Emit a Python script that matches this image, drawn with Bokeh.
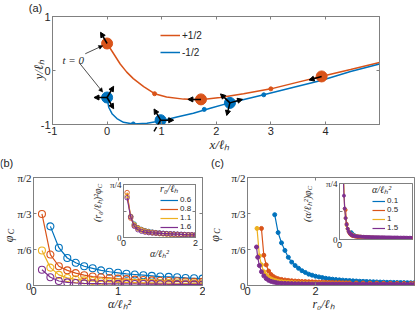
import math
from bokeh.plotting import figure
from bokeh.models import (Range1d, LinearAxis, FixedTicker, Label, Legend,
                          LegendItem, Arrow, NormalHead, ColumnDataSource)
from bokeh.embed import file_html
from bokeh.resources import INLINE

PI = math.pi
BLUE, ORANGE, YELLOW, PURPLE = "#0072BD", "#D95319", "#EDB120", "#7E2F8E"
AX = "#808080"
TXT = "#262626"
SANS = "Liberation Sans"
SERIF = "Liberation Serif"

# ---------------- panel (a): defect trajectories ----------------
plus_x = [0.0, 0.12, 0.24, 0.36, 0.48, 0.67, 0.87, 1.09, 1.40, 1.71, 2.07, 2.50, 3.00, 3.48, 3.92, 4.46, 4.99]
plus_y = [0.50, 0.31, 0.12, -0.03, -0.15, -0.30, -0.43, -0.49, -0.53, -0.54, -0.50, -0.43, -0.34, -0.22, -0.11, 0.02, 0.15]
minus_x = [0.0, 0.03, 0.09, 0.18, 0.30, 0.48, 0.73, 1.00, 1.28, 1.58, 1.89, 2.24, 2.87, 3.42, 3.92, 4.46, 4.99]
minus_y = [-0.505, -0.68, -0.80, -0.89, -0.96, -0.99, -0.975, -0.93, -0.86, -0.79, -0.70, -0.60, -0.45, -0.31, -0.185, -0.02, 0.12]
plus_tick_x = [0.87, 3.00]
plus_tick_y = [-0.43, -0.34]
minus_tick_x = [0.48, 1.78, 2.87]
minus_tick_y = [-0.99, -0.72, -0.45]
plus_def_x = [0.0, 1.72, 3.93]
plus_def_y = [0.50, -0.535, -0.11]
plus_angle = [120, 180, 196]
minus_def_x = [0.0, 0.98, 2.25]
minus_def_y = [-0.50, -0.92, -0.60]
minus_angle = [60, 0, 16]
legend_a = ["+1/2", "-1/2"]

# ---------------- panel (b): phi_C vs alpha ----------------
alpha_b = [0.1, 0.2, 0.3, 0.4, 0.5, 0.6, 0.7, 0.8, 0.9, 1.0,
           1.1, 1.2, 1.3, 1.4, 1.5, 1.6, 1.7, 1.8, 1.9, 2.0]
r0_b = [0.6, 0.8, 1.1, 1.6]
phi_b_06 = [0.86, 0.55, 0.40, 0.33, 0.28, 0.25, 0.22, 0.20, 0.185,
            0.17, 0.16, 0.15, 0.14, 0.13, 0.125, 0.12, 0.11, 0.105, 0.10]
phi_b_08 = [1.04, 0.45, 0.28, 0.22, 0.18, 0.15, 0.13, 0.12, 0.11, 0.10,
            0.092, 0.085, 0.079, 0.074, 0.069, 0.065, 0.061, 0.058, 0.055, 0.052]
phi_b_11 = [0.51, 0.26, 0.155, 0.11, 0.09, 0.075, 0.065, 0.058, 0.052, 0.047,
            0.044, 0.041, 0.039, 0.037, 0.035, 0.034, 0.033, 0.032, 0.031, 0.030]
phi_b_16 = [0.23, 0.12, 0.065, 0.045, 0.036, 0.031, 0.028, 0.026, 0.025, 0.024,
            0.023, 0.022, 0.021, 0.020, 0.019, 0.018, 0.017, 0.016, 0.016, 0.015]

# ---------------- panel (c): phi_C vs r0 ----------------
alpha_c = [0.1, 0.5, 1.0, 1.5]
r0_c_01 = [0.8, 0.9, 1.0, 1.1, 1.2, 1.3, 1.4, 1.5, 1.6, 1.7, 1.8, 1.9, 2.0, 2.1,
           2.2, 2.3, 2.4, 2.5, 2.6, 2.7, 2.8, 2.9, 3.0, 3.1, 3.2, 3.3, 3.4, 3.5,
           3.6, 3.7, 3.8, 3.9, 4.0, 4.1, 4.2, 4.3, 4.4, 4.5, 4.6, 4.7, 4.8, 4.9]
phi_c_01 = [1.03, 0.77, 0.62, 0.51, 0.41, 0.34, 0.29, 0.25, 0.215, 0.19, 0.165, 0.15, 0.135, 0.125,
            0.115, 0.105, 0.098, 0.092, 0.087, 0.082, 0.078, 0.074, 0.071, 0.068, 0.065, 0.062, 0.060, 0.058,
            0.056, 0.054, 0.052, 0.050, 0.049, 0.047, 0.046, 0.045, 0.044, 0.043, 0.042, 0.041, 0.040, 0.039]
r0_c_05 = [0.41, 0.48, 0.55, 0.62, 0.69, 0.76, 0.83, 0.90,
           1.0, 1.1, 1.2, 1.3, 1.4, 1.5, 1.6, 1.7, 1.8, 1.9, 2.0, 2.1, 2.2, 2.3, 2.4, 2.5, 2.6, 2.7, 2.8, 2.9, 3.0,
           3.2, 3.4, 3.6, 3.8, 4.0, 4.2, 4.4, 4.6, 4.8, 4.9]
phi_c_05 = [0.83, 0.44, 0.30, 0.21, 0.16, 0.13, 0.11, 0.098,
            0.088, 0.080, 0.074, 0.069, 0.065, 0.062, 0.059, 0.057, 0.055, 0.053, 0.051, 0.049, 0.048,
            0.046, 0.045, 0.044, 0.043, 0.042, 0.041, 0.040, 0.039,
            0.037, 0.036, 0.035, 0.034, 0.033, 0.032, 0.031, 0.030, 0.029, 0.029]
r0_c_10 = [0.28, 0.35, 0.41, 0.48, 0.55, 0.62, 0.69, 0.76, 0.83, 0.90,
           1.0, 1.1, 1.2, 1.3, 1.4, 1.5, 1.6, 1.7, 1.8, 1.9, 2.0, 2.1, 2.2, 2.3, 2.4, 2.5, 2.6, 2.7, 2.8, 2.9, 3.0,
           3.2, 3.4, 3.6, 3.8, 4.0, 4.2, 4.4, 4.6, 4.8, 4.9]
phi_c_10 = [0.83, 0.43, 0.30, 0.20, 0.15, 0.115, 0.095, 0.080, 0.070, 0.062,
            0.055, 0.050, 0.046, 0.043, 0.040, 0.038, 0.036, 0.034, 0.032, 0.031, 0.030,
            0.029, 0.028, 0.027, 0.026, 0.025, 0.025, 0.024, 0.024, 0.023, 0.023,
            0.022, 0.021, 0.021, 0.020, 0.020, 0.019, 0.019, 0.018, 0.018, 0.018]
r0_c_15 = [0.265, 0.30, 0.35, 0.41, 0.48, 0.55, 0.62, 0.69, 0.76, 0.83, 0.90,
           1.0, 1.1, 1.2, 1.3, 1.4, 1.5, 1.6, 1.7, 1.8, 1.9, 2.0, 2.1, 2.2, 2.3, 2.4, 2.5, 2.6, 2.7, 2.8, 2.9,
           3.0, 3.1, 3.2, 3.3, 3.4, 3.5, 3.6, 3.7, 3.8, 3.9, 4.0, 4.1, 4.2, 4.3, 4.4, 4.5, 4.6, 4.7, 4.8, 4.9]
phi_c_15 = [0.56, 0.41, 0.29, 0.20, 0.14, 0.10, 0.075, 0.060, 0.050, 0.043, 0.037,
            0.033, 0.031, 0.029, 0.028, 0.027, 0.026, 0.025, 0.024, 0.024, 0.023,
            0.023, 0.022, 0.022, 0.022, 0.021, 0.021, 0.021, 0.020, 0.020, 0.020,
            0.020, 0.019, 0.019, 0.019, 0.019, 0.018, 0.018, 0.018, 0.018, 0.018,
            0.017, 0.017, 0.017, 0.017, 0.017, 0.016, 0.016, 0.016, 0.016, 0.016]

y_ticks_main = [0, PI / 6, PI / 3, PI / 2]
y_labels_main = ["0", "π/6", "π/3", "π/2"]
y_ticks_inset = [0, PI / 8, PI / 4]
y_labels_inset = ["0", "", "π/4"]


def make_fig(xr, yr, fw, fh, left, top, bl, bt, br, bb, inset=False):
    p = figure(x_range=Range1d(*xr), y_range=Range1d(*yr),
               frame_width=fw, frame_height=fh,
               min_border_left=bl, min_border_top=bt,
               min_border_right=br, min_border_bottom=bb,
               output_backend="svg", toolbar_location=None,
               styles={"position": "absolute", "left": f"{left}px", "top": f"{top}px"})
    p.border_fill_color = None
    p.background_fill_color = "white" if inset else None
    p.outline_line_color = AX
    p.outline_line_width = 1
    p.xgrid.visible = False
    p.ygrid.visible = False
    return p


def style_axis(ax, ticks, labels, font, size, hidden=False, standoff=2):
    ax.ticker = FixedTicker(ticks=ticks)
    ax.major_tick_in = 3
    ax.major_tick_out = 0
    ax.minor_tick_line_color = None
    ax.axis_line_color = AX
    ax.major_tick_line_color = AX
    ax.major_label_text_font = font
    if hidden:
        ax.major_label_overrides = {t: "" for t in ticks}
        ax.major_label_text_color = None
        ax.major_label_text_font_size = "0px"
        ax.major_label_standoff = 0
    else:
        ax.major_label_overrides = {t: l for t, l in zip(ticks, labels)}
        ax.major_label_text_color = TXT
        ax.major_label_text_font_size = f"{size}px"
        ax.major_label_standoff = standoff


def setup_axes(p, xt, xl, yt, yl, xfont, yfont, size, right=True, top=True, xstand=2):
    style_axis(p.xaxis[0], xt, xl, xfont, size, standoff=xstand)
    style_axis(p.yaxis[0], yt, yl, yfont, size)
    if top:
        a = LinearAxis()
        style_axis(a, xt, xl, xfont, size, hidden=True)
        p.add_layout(a, "above")
    if right:
        a = LinearAxis()
        style_axis(a, yt, yl, yfont, size, hidden=True)
        p.add_layout(a, "right")


def label(p, x, y, text, size, font=SANS, style="normal", angle=0.0,
          align="center", baseline="middle"):
    p.add_layout(Label(x=x, y=y, text=text,
                       text_font=font, text_font_size=f"{size}px",
                       text_font_style=style, text_color=TXT, angle=angle,
                       text_align=align, text_baseline=baseline))


def make_legend(items, loc, title=None, fsize=10, tsize=10, gw=20, gh=14, spacing=3):
    leg = Legend(items=items, location=loc, orientation="vertical",
                 padding=0, margin=0, spacing=spacing, glyph_width=gw, glyph_height=gh,
                 label_height=gh, label_standoff=2, label_text_font=SANS,
                 label_text_font_size=f"{fsize}px", label_text_color=TXT,
                 border_line_color=None, background_fill_alpha=0)
    if title:
        leg.title = title
        leg.title_text_font = SERIF
        leg.title_text_font_style = "italic"
        leg.title_text_font_size = f"{tsize}px"
        leg.title_text_color = TXT
        leg.title_standoff = 0
    return leg


# ================= panel (a) =================
pa = make_fig((-1, 4.99), (-1, 1), 327, 108, 0, 0, 52, 16, 20, 30)
setup_axes(pa, [-1, 0, 1, 2, 3, 4], ["-1", "0", "1", "2", "3", "4"],
           [-1, 0, 1], ["-1", "0", "1"], SANS, SANS, 11)
r_plus = pa.line(plus_x, plus_y, line_color=ORANGE, line_width=1.5)
r_minus = pa.line(minus_x, minus_y, line_color=BLUE, line_width=1.5)
pa.scatter(plus_tick_x, plus_tick_y, size=4, color=ORANGE)
pa.scatter(minus_tick_x, minus_tick_y, size=4, color=BLUE)
pa.scatter(plus_def_x, plus_def_y, size=11, color=ORANGE)
pa.scatter(minus_def_x, minus_def_y, size=11, color=BLUE)

L = 0.24
x0s, y0s, x1s, y1s = [], [], [], []
for x, y, a in zip(plus_def_x, plus_def_y, plus_angle):
    t = math.radians(a)
    x0s.append(x); y0s.append(y)
    x1s.append(x + L * math.cos(t)); y1s.append(y + L * math.sin(t))
for x, y, a in zip(minus_def_x, minus_def_y, minus_angle):
    for k in range(3):
        t = math.radians(a + 120 * k)
        x0s.append(x); y0s.append(y)
        x1s.append(x + L * math.cos(t)); y1s.append(y + L * math.sin(t))
dir_src = ColumnDataSource(dict(x0=x0s, y0=y0s, x1=x1s, y1=y1s))
pa.add_layout(Arrow(end=NormalHead(size=5, fill_color="black", line_color="black", line_width=1),
                    x_start="x0", y_start="y0", x_end="x1", y_end="y1", source=dir_src,
                    line_color="black", line_width=1.5))

t0_src = ColumnDataSource(dict(x0=[-0.40, -0.50], y0=[0.31, 0.13], x1=[-0.08, -0.08], y1=[0.46, -0.40]))
pa.add_layout(Arrow(end=NormalHead(size=4, fill_color="black", line_color="black", line_width=0.5),
                    x_start="x0", y_start="y0", x_end="x1", y_end="y1", source=t0_src,
                    line_color="black", line_width=0.7))
label(pa, -0.62, 0.20, "t = 0", 11, SERIF, "italic")

pa.add_layout(make_legend([LegendItem(label=legend_a[0], renderers=[r_plus]),
                           LegendItem(label=legend_a[1], renderers=[r_minus])], (108, 65)))

# ================= panel (b) =================
pb = make_fig((0, 2), (0, PI / 2), 169, 108, 0, 145, 33, 32, 3, 28)
setup_axes(pb, [0, 1, 2], ["0", "1", "2"], y_ticks_main, y_labels_main, SANS, SERIF, 11, xstand=1)
series_b = [(alpha_b[1:], phi_b_06, BLUE), (alpha_b, phi_b_08, ORANGE),
            (alpha_b, phi_b_11, YELLOW), (alpha_b, phi_b_16, PURPLE)]
for xs, ys, c in series_b:
    pb.line(xs, ys, line_color=c, line_width=1.2)
    pb.scatter(xs, ys, size=7, line_color=c, fill_color=None, line_width=1.1)

# inset (b)
pbi = make_fig((0, 2), (0, PI / 4), 72, 53, 100, 176, 23, 8, 4, 24, inset=True)
setup_axes(pbi, [0, 2], ["0", "2"], y_ticks_inset, y_labels_inset, SANS, SERIF, 9)
leg_items_b = []
for (xs, ys, c), r0 in zip(series_b, r0_b):
    yy = [r0 ** 2 * v for v in ys]
    rl = pbi.line(xs, yy, line_color=c, line_width=1.2)
    pbi.scatter(xs, yy, size=4.5, line_color=c, fill_color=None, line_width=0.9)
    leg_items_b.append(LegendItem(label=str(r0), renderers=[rl]))
pbi.add_layout(make_legend(leg_items_b, (37, 6), title="r₀/ℓₕ", fsize=8, tsize=10,
                           gw=18, gh=8, spacing=0))

# ================= panel (c) =================
pc = make_fig((0, 4.91), (0, PI / 2), 167, 108, 205, 145, 42, 32, 1, 28)
setup_axes(pc, [0, 2], ["0", "2"], y_ticks_main, y_labels_main, SANS, SERIF, 11,
           right=False, xstand=1)
series_c = [(r0_c_01, phi_c_01, BLUE), (r0_c_05, phi_c_05, ORANGE),
            (r0_c_10, phi_c_10, YELLOW), (r0_c_15, phi_c_15, PURPLE)]
for xs, ys, c in series_c:
    pc.line(xs, ys, line_color=c, line_width=1.2)
    pc.scatter(xs, ys, size=4, color=c)

# inset (c)
pci = make_fig((0, 4.91), (0, PI / 4), 73, 56, 300, 175, 39, 8, 2, 12, inset=True)
setup_axes(pci, [0], ["0"], y_ticks_inset, y_labels_inset, SANS, SERIF, 9, right=False)
leg_items_c = []
for (xs, ys, c), al in zip(series_c, alpha_c):
    yy = [al * v for v in ys]
    rl = pci.line(xs, yy, line_color=c, line_width=1.2)
    pci.scatter(xs, yy, size=3, color=c)
    leg_items_c.append(LegendItem(label=f"{al:g}", renderers=[rl]))
pci.add_layout(make_legend(leg_items_c, (33, 7), title="α/ℓₕ²", fsize=8, tsize=10,
                           gw=13, gh=8, spacing=0))

# ================= text layer (page pixel coordinates) =================
pt = figure(x_range=Range1d(0, 415), y_range=Range1d(313, 0),
            frame_width=415, frame_height=313, min_border=0,
            x_axis_location=None, y_axis_location=None,
            output_backend="svg", toolbar_location=None,
            styles={"position": "absolute", "left": "0px", "top": "0px"})
pt.border_fill_color = None
pt.background_fill_color = None
pt.outline_line_color = None
pt.xgrid.visible = False
pt.ygrid.visible = False
R = PI / 2
label(pt, 35, 7, "(a)", 11)
label(pt, 38, 69, "y/ℓₕ", 13, SERIF, "italic", angle=R)
label(pt, 219, 144, "x/ℓₕ", 13, SERIF, "italic")
label(pt, 6, 162, "(b)", 11)
label(pt, 8, 238.5, "φ", 12, SERIF, "italic", angle=R)
label(pt, 11, 231, "C", 8, SERIF, "italic", angle=R)
label(pt, 119, 303, "α/ℓₕ²", 12, SERIF, "italic")
label(pt, 97, 188, "(r₀/ℓₕ)²φ", 10, SERIF, "italic", angle=R, align="right")
label(pt, 99.5, 188, "C", 7, SERIF, "italic", angle=R, align="left")
label(pt, 159, 253, "α/ℓₕ²", 10, SERIF, "italic")
label(pt, 217, 162, "(c)", 11)
label(pt, 214, 238, "φ", 12, SERIF, "italic", angle=R)
label(pt, 216.5, 230.5, "C", 8, SERIF, "italic", angle=R)
label(pt, 323, 303, "r₀/ℓₕ", 12, SERIF, "italic")
label(pt, 307, 190, "(α/ℓₕ²)φ", 10, SERIF, "italic", angle=R, align="right")
label(pt, 309.5, 190, "C", 7, SERIF, "italic", angle=R, align="left")

open("out.html", "w").write(file_html([pa, pb, pc, pbi, pci, pt], INLINE))
